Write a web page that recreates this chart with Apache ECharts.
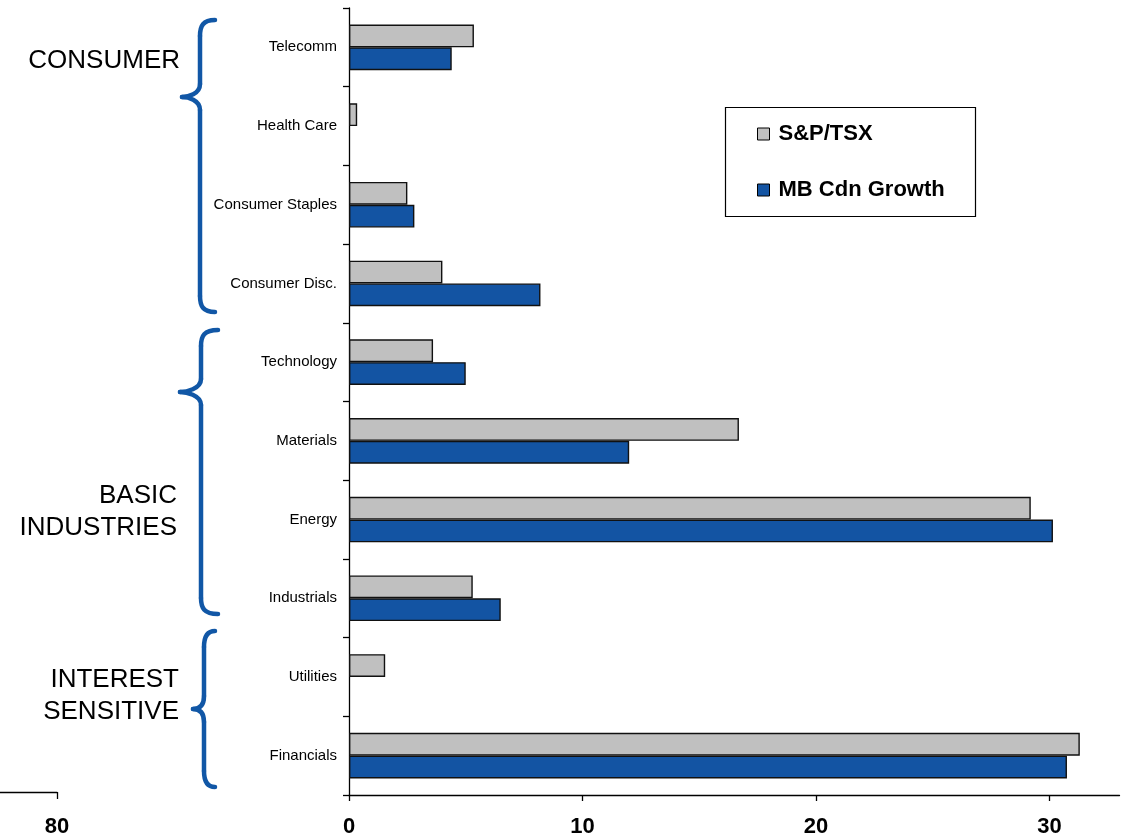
<!DOCTYPE html>
<html>
<head>
<meta charset="utf-8">
<script src="https://cdn.jsdelivr.net/npm/echarts@6/dist/echarts.min.js"></script>
<style>
  html, body { margin: 0; padding: 0; background: #fff; }
  #chart { width: 1124px; height: 839px; }
</style>
</head>
<body>
<div id="chart"></div>
<script>
// Sectors, listed bottom to top as the category axis stacks them
const sectors = ['Financials', 'Utilities', 'Industrials', 'Energy', 'Materials',
                 'Technology', 'Consumer Disc.', 'Consumer Staples', 'Health Care', 'Telecomm'];
// Sector weights (%)
const tsxWeights    = [31.3, 1.55, 5.3, 29.2, 16.7, 3.6, 4.0, 2.5, 0.35, 5.35];
const growthWeights = [30.75, 0, 6.5, 30.15, 12.0, 5.0, 8.2, 2.8, 0, 4.4];
const seriesNames = ['S&P/TSX', 'MB Cdn Growth'];
const xTicks = [0, 10, 20, 30];
const sideTicks = [80];
// Sector groupings shown beside the category labels
const groupLabels = ['CONSUMER', 'BASIC\nINDUSTRIES', 'INTEREST\nSENSITIVE'];

const GREY = '#C0C0C0';
const BLUE = '#1354A3';
const BRACE = '#1157A6';
const FONT = 'Liberation Sans, Arial, sans-serif';
const NARROW = 'Liberation Sans Narrow, Liberation Sans, Arial, sans-serif';

const chart = echarts.init(document.getElementById('chart'), null, { renderer: 'canvas' });

// Empty holdings get no outline so no sliver is drawn at the axis
function barData(values) {
  return values.map(v => v === 0 ? { value: 0, itemStyle: { borderWidth: 0 } } : v);
}

// Curly brace built from curves and straight stems
function brace(xEnd, xStem, xTip, yTop, yTip, yBot) {
  const r = 16, k = 13;
  const style = { fill: null, stroke: BRACE, lineWidth: 4.5, lineCap: 'round' };
  const curve = (x1, y1, cx1, cy1, cx2, cy2, x2, y2) => ({
    type: 'bezierCurve',
    shape: { x1: x1, y1: y1, cpx1: cx1, cpy1: cy1, cpx2: cx2, cpy2: cy2, x2: x2, y2: y2 },
    style: style, silent: true
  });
  const line = (x1, y1, x2, y2) => ({
    type: 'line', shape: { x1: x1, y1: y1, x2: x2, y2: y2 }, style: style, silent: true
  });
  return [
    curve(xEnd, yTop, xStem + 3, yTop, xStem, yTop + 6, xStem, yTop + r),
    line(xStem, yTop + r, xStem, yTip - k),
    curve(xStem, yTip - k, xStem, yTip - 3, xTip + 6, yTip, xTip, yTip),
    curve(xTip, yTip, xTip + 6, yTip, xStem, yTip + 3, xStem, yTip + k),
    line(xStem, yTip + k, xStem, yBot - r),
    curve(xStem, yBot - r, xStem, yBot - 6, xStem + 3, yBot, xEnd, yBot)
  ];
}

function groupText(text, x, y) {
  return {
    type: 'text',
    x: x, y: y,
    style: {
      text: text, fill: '#000', font: '26px ' + FONT,
      align: 'right', verticalAlign: 'middle', lineHeight: 32
    },
    silent: true
  };
}

const option = {
  animation: false,
  backgroundColor: '#fff',
  grid: [
    { left: 349, top: 8, width: 770.5, height: 787, containLabel: false },
    { left: 0, width: 57, bottom: 47, height: 10, containLabel: false }
  ],
  xAxis: [
    {
      type: 'value', gridIndex: 0, min: 0, max: 33, interval: 10,
      splitLine: { show: false },
      axisLine: { show: true, lineStyle: { color: '#000', width: 1.3 } },
      axisTick: { show: true, length: 6, customValues: xTicks, lineStyle: { color: '#000', width: 1.3 } },
      axisLabel: {
        customValues: xTicks, margin: 21, color: '#000',
        fontFamily: NARROW, fontWeight: 'bold', fontSize: 22
      }
    },
    {
      type: 'value', gridIndex: 1, min: 0, max: 80,
      splitLine: { show: false },
      axisLine: { show: true, lineStyle: { color: '#000', width: 1.3 } },
      axisTick: { show: true, length: 7, customValues: sideTicks, lineStyle: { color: '#000', width: 1.3 } },
      axisLabel: {
        customValues: sideTicks, margin: 24, color: '#000',
        fontFamily: NARROW, fontWeight: 'bold', fontSize: 22
      }
    }
  ],
  yAxis: [
    {
      type: 'category', gridIndex: 0, data: sectors,
      axisLine: { show: true, lineStyle: { color: '#000', width: 1.3 } },
      axisTick: { show: true, length: 6, lineStyle: { color: '#000', width: 1.3 } },
      axisLabel: { margin: 12, color: '#000', fontFamily: FONT, fontSize: 15 }
    },
    { type: 'category', gridIndex: 1, show: false, data: [''] }
  ],
  legend: {
    left: 757, top: 121, orient: 'vertical', padding: 0,
    itemWidth: 12, itemHeight: 12, itemGap: 30,
    icon: 'rect',
    data: seriesNames,
    itemStyle: { borderColor: '#000', borderWidth: 1 },
    textStyle: {
      color: '#000', fontFamily: FONT, fontWeight: 'bold', fontSize: 22,
      lineHeight: 26, padding: [0, 0, 0, 4]
    }
  },
  series: [
    {
      name: seriesNames[0], type: 'bar', data: barData(tsxWeights),
      barCategoryGap: '42%', barGap: '0%',
      itemStyle: { color: GREY, borderColor: '#111', borderWidth: 1.4 }
    },
    {
      name: seriesNames[1], type: 'bar', data: barData(growthWeights),
      barCategoryGap: '42%', barGap: '0%',
      itemStyle: { color: BLUE, borderColor: '#111', borderWidth: 1.4 }
    }
  ],
  graphic: [
    // legend frame
    {
      type: 'rect', shape: { x: 725.5, y: 107.5, width: 250, height: 109 },
      style: { fill: null, stroke: '#000', lineWidth: 1.2 }, silent: true
    },
    ...brace(215, 200, 182, 20, 97, 312),
    ...brace(218, 201, 180, 330, 392, 614),
    ...brace(215, 204, 193, 631, 709, 787),
    groupText(groupLabels[0], 180, 61),
    groupText(groupLabels[1], 177, 512),
    groupText(groupLabels[2], 179, 696)
  ]
};

chart.setOption(option);
</script>
</body>
</html>
